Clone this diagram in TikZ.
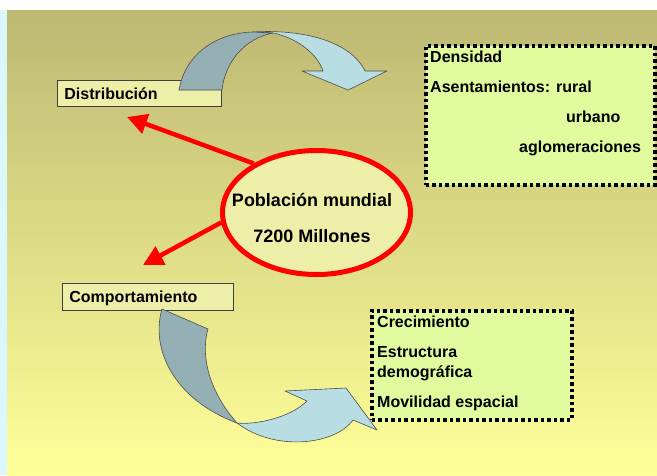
\documentclass[tikz,border=0pt]{standalone}
\usepackage{fontspec}
\setmainfont{Liberation Sans}
\usetikzlibrary{calc}
\usetikzlibrary{positioning}
\usetikzlibrary{shapes.geometric}
\usetikzlibrary{arrows.meta}

\definecolor{bgtop}{HTML}{BDB873}
\definecolor{bgbottom}{HTML}{FFFF99}
\definecolor{sidestrip}{HTML}{DCF7FB}
\definecolor{labelfill}{HTML}{EDEFA8}
\definecolor{notefill}{HTML}{E1FA9E}
\definecolor{ribbondark}{HTML}{94B0B4}
\definecolor{ribbonlight}{HTML}{B8DEE4}

\begin{document}
\begin{tikzpicture}[x=1pt, y=-1pt,
    labelbox/.style={rectangle, draw=black!75, line width=0.8pt, fill=labelfill, anchor=north west, align=left, inner xsep=7pt, inner ysep=0pt, text height=11.5pt, text depth=0pt, font=\fontsize{16}{20}\selectfont\bfseries},
    notebox/.style={rectangle, draw=black, line width=3.5pt, dash pattern=on 3.5pt off 3pt, fill=notefill, anchor=north west, inner sep=0pt},
    notetext/.style={anchor=north west, inner sep=0pt, align=left, font=\fontsize{16}{20}\selectfont\bfseries},
    ribbon/.style={draw=black!70, line width=0.6pt, line join=round},
    redarrow/.style={draw=red, line width=4.5pt, -{Triangle[length=20pt, width=20pt]}}]
    \useasboundingbox (0,0) rectangle (657,475);
    \fill [white] (0,0) rectangle (657,475);
    \fill [sidestrip] (0,10) rectangle (7,475);
    \shade [top color=bgtop, bottom color=bgbottom] (7,10) rectangle (657,475);

    \node [labelbox, text width=150pt, minimum height=26pt] (dist) at (57,80) {Distribución};
    \node [labelbox, text width=157pt, minimum height=27pt, below=176pt of dist.south west, anchor=north west, xshift=5pt] (comp) {Comportamiento};

    \node [notebox, minimum width=229pt, minimum height=139pt] (densidad) at (424,44) {};
    \node [notetext, below right=7pt and 6pt of densidad.north west] (densidadtext) {Densidad\\[10pt] Asentamientos: rural\\[10pt] \hspace*{136pt}urbano\\[10pt] \hspace*{89pt}aglomeraciones};
    \node [notebox, minimum width=200pt, minimum height=109pt] (crec) at (370,309) {};
    \node [notetext, below right=7pt and 7pt of crec.north west] (crectext) {Crecimiento\\[10pt] Estructura\\ demográfica\\[10pt] Movilidad espacial};

    \node [ellipse, draw=red, line width=5pt, fill=labelfill, minimum width=188pt, minimum height=124pt] (poblacion) at (316.5,212.5) {};
    \node [align=center, inner sep=0pt, font=\fontsize{18}{36}\selectfont\bfseries] (poblaciontext) at (312,218) {Población mundial\\ 7200 Millones};

    \fill [ribbonlight, ribbon] (253,32) .. controls (300,29) and (350,40) .. (365,71) -- (387,71) -- (348,90) -- (302,71) -- (323,71) .. controls (318,55) and (298,38) .. (273,33) -- cycle;
    \fill [ribbondark, ribbon] (179,90) .. controls (185,55) and (215,33) .. (253,32) -- (273,33) .. controls (245,38) and (225,62) .. (222,90) -- cycle;
    \fill [ribbonlight, ribbon] (237,423) .. controls (255,425) and (290,418) .. (307,401) -- (285,391) -- (346,388) -- (377,430) -- (353,420) .. controls (335,445) and (275,452) .. (237,423) -- cycle;
    \fill [ribbondark, ribbon] (162,309) .. controls (150,350) and (175,400) .. (237,423) .. controls (218,402) and (198,365) .. (208,329) -- cycle;

    \coordinate (disttip) at (127,117);
    \coordinate (comptip) at (143,265);
    \draw [redarrow] (poblacion.142) -- (disttip);
    \draw [redarrow] (poblacion.186) -- (comptip);
\end{tikzpicture}
\end{document}
